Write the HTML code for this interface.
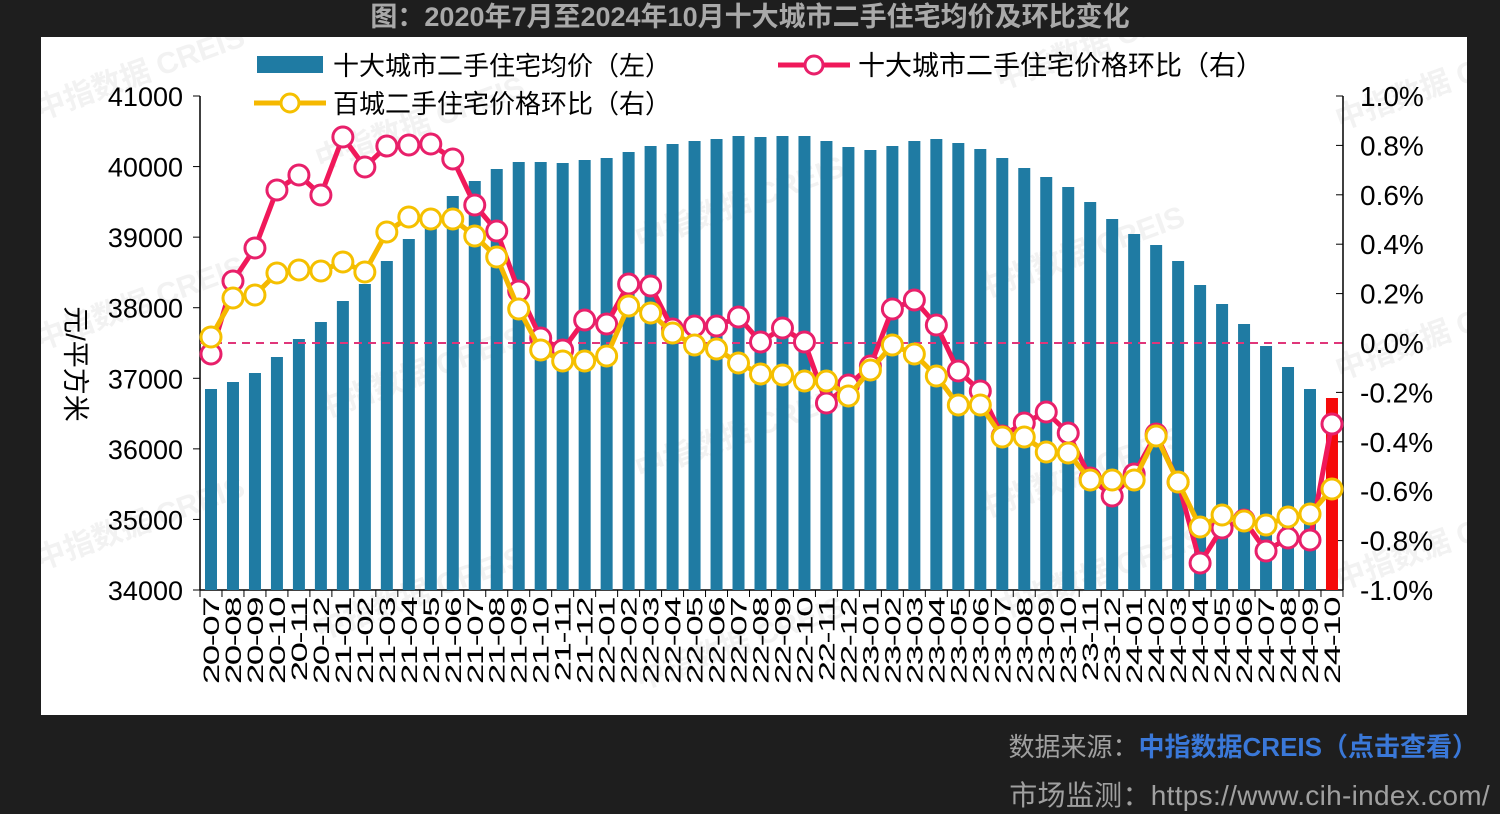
<!DOCTYPE html>
<html><head><meta charset="utf-8">
<style>
html,body{margin:0;padding:0;background:#1e1e1e;}
body{width:1500px;height:811px;position:relative;overflow:hidden;font-family:"Liberation Sans","Noto Sans CJK SC",sans-serif;}
.title{position:absolute;left:0;width:1500px;top:1px;text-align:center;color:#a9a9a9;font-weight:bold;font-size:27px;line-height:32px;}
.panel{position:absolute;left:41px;top:37px;width:1426px;height:678px;background:#fff;}
.src{position:absolute;right:22px;top:727px;font-size:26px;color:#a0a0a0;}
.src b{color:#3a78d8;}
.url{position:absolute;right:10px;top:774px;font-size:28px;color:#a0a0a0;letter-spacing:0.3px;}
</style></head><body>
<div class="title">图：2020年7月至2024年10月十大城市二手住宅均价及环比变化</div>
<div class="panel"></div>
<svg id="c" width="1500" height="811" style="position:absolute;left:0;top:0" font-family="Liberation Sans, Noto Sans CJK SC, sans-serif"></svg>
<div class="src">数据来源：<b>中指数据CREIS（点击查看）</b></div>
<div class="url">市场监测：https://www.cih-index.com/</div>
<script>
var bars=[389,382,373,357,339,322,301,284,261,239,221,196,181,169,162,162,163,160,158,152,146,144,141,139,136,137,136,136,141,147,150,146,141,139,143,149,158,168,177,187,202,219,234,245,261,285,304,324,346,367,389,398];
var red=[354,281,248,190,175,195,137,167,146,145,144,159,205,231,291,338,350,320,324,284,286,329,326,326,317,342,328,342,403,385,366,309,300,325,371,391,436,423,412,433,478,496,474,434,482,563,528,520,551,538,540,424];
var yel=[337,298,295,273,270,271,262,272,232,217,219,219,236,257,309,350,361,361,356,306,313,333,345,349,363,374,375,381,381,396,370,345,354,376,405,405,437,437,452,453,480,480,480,436,482,527,515,521,525,517,514,489];
var s='<defs><clipPath id="pc"><rect x="41" y="37" width="1426" height="678"/></clipPath></defs><g clip-path="url(#pc)">';
function X(i){return 211+i*21.98;}
var wm=[[40,120],[320,170],[640,250],[980,300],[40,350],[320,420],[640,480],[980,520],[40,570],[320,640],[640,690],[1000,90],[1340,130],[1340,380],[1340,590],[1000,620]];
wm.forEach(function(p){s+='<text x="'+p[0]+'" y="'+p[1]+'" transform="rotate(-20 '+p[0]+' '+p[1]+')" font-size="30" font-weight="bold" fill="#f2f2f2">中指数据 CREIS</text>';});
s+='</g>';
s+='<line x1="200" y1="96" x2="200" y2="590" stroke="#000" stroke-width="1.5"/>';
s+='<line x1="1343" y1="96" x2="1343" y2="590" stroke="#000" stroke-width="1.5"/>';
s+='<line x1="200" y1="590" x2="1343" y2="590" stroke="#000" stroke-width="1.5"/>';
for(var k=0;k<=7;k++){var y=590-k*70.57;s+='<line x1="193" y1="'+y+'" x2="200" y2="'+y+'" stroke="#000"/>';s+='<text x="183" y="'+(y+10)+'" text-anchor="end" font-size="27">'+(34000+k*1000)+'</text>';}
for(var k=0;k<=10;k++){var y=590-k*49.4;var v=(-1+k*0.2);s+='<line x1="1336" y1="'+y+'" x2="1343" y2="'+y+'" stroke="#000"/>';s+='<text x="1360" y="'+(y+10)+'" font-size="28">'+(v<-0.001?'-':'')+Math.abs(v).toFixed(1)+'%</text>';}
s+='<text transform="translate(66,364) rotate(90)" text-anchor="middle" font-size="27">元/平方米</text>';
bars.forEach(function(t,i){s+='<rect x="'+(X(i)-6)+'" y="'+t+'" width="12" height="'+(590-t)+'" fill="'+(i==51?'#f50a0a':'#1f7ba3')+'"/>';});
for(var i=0;i<=52;i++){var x=X(i)-11;s+='<line x1="'+x+'" y1="590" x2="'+x+'" y2="597" stroke="#000"/>';}
s+='<line x1="200" y1="343" x2="1343" y2="343" stroke="#e0367a" stroke-width="2" stroke-dasharray="8,6"/>';
function line(a,c,fc){var p=a.map(function(y,i){return X(i)+','+y}).join(' ');s+='<polyline points="'+p+'" fill="none" stroke="'+c+'" stroke-width="5" stroke-linejoin="round"/>';a.forEach(function(y,i){s+='<circle cx="'+X(i)+'" cy="'+y+'" r="10" fill="#fff" stroke="'+fc+'" stroke-width="3"/>';});}
line(red,'#f0185a','#e8206a');
line(yel,'#f5b800','#f5c000');
var m=7,yr=20;
for(var i=0;i<52;i++){var lab=yr+'-'+(m<10?'0':'')+m;s+='<text transform="translate('+(X(i)+8)+',598) rotate(-90) scale(1.6,0.95)" text-anchor="end" font-size="23" letter-spacing="-1">'+lab+'</text>';m++;if(m>12){m=1;yr++;}}
s+='<rect x="257" y="56" width="66" height="17" fill="#1f7ba3"/>';
s+='<text x="333" y="75" font-size="26">十大城市二手住宅均价（左）</text>';
s+='<line x1="254" y1="103" x2="326" y2="103" stroke="#f5b800" stroke-width="5"/><circle cx="290" cy="103" r="9" fill="#fff" stroke="#f5c000" stroke-width="3"/>';
s+='<text x="333" y="113" font-size="26">百城二手住宅价格环比（右）</text>';
s+='<line x1="778" y1="65" x2="850" y2="65" stroke="#f0185a" stroke-width="5"/><circle cx="814" cy="65" r="9" fill="#fff" stroke="#e8206a" stroke-width="3"/>';
s+='<text x="858" y="75" font-size="27">十大城市二手住宅价格环比（右）</text>';
document.getElementById('c').innerHTML=s;
</script>
</body></html>
